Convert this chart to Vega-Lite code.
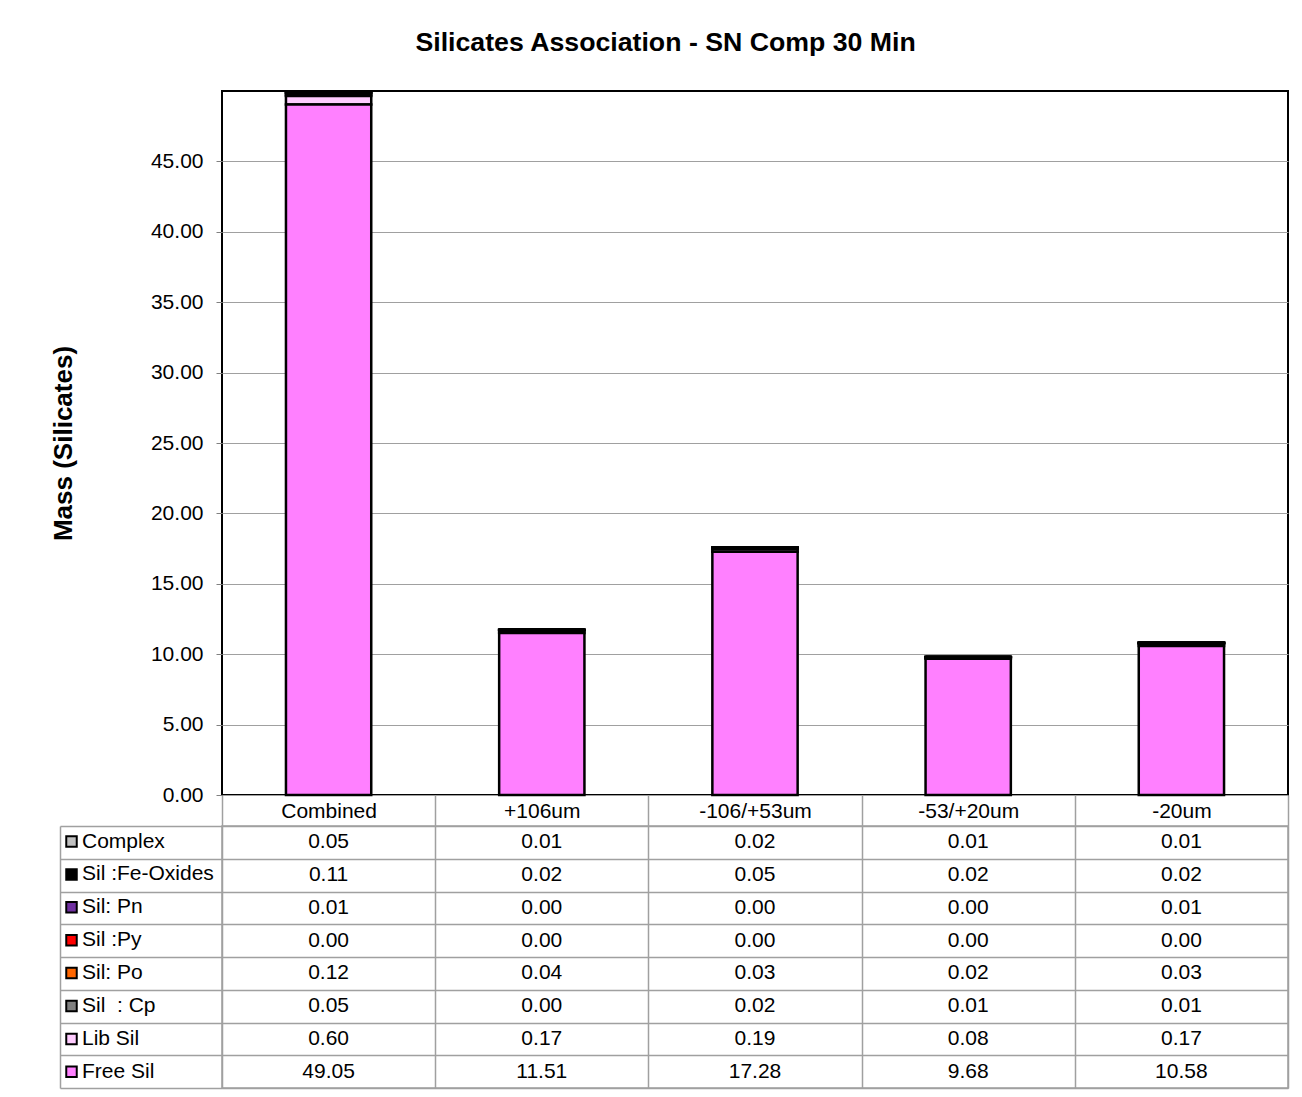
{
  "$schema": "https://vega.github.io/schema/vega-lite/v6.json",
  "padding": {"left": 49, "top": 30, "right": 5, "bottom": 5},
  "background": "white",
  "config": {"font": "Liberation Sans", "view": {"stroke": null}},
  "title": {"text": "Silicates Association - SN Comp 30 Min", "fontSize": 26.7, "fontWeight": "bold", "color": "black", "anchor": "middle", "frame": "bounds", "offset": 32, "dx": -4},
  "data": {"values": [
    {"fraction": "Combined", "series": "Complex", "mass": 0.05},
    {"fraction": "+106um", "series": "Complex", "mass": 0.01},
    {"fraction": "-106/+53um", "series": "Complex", "mass": 0.02},
    {"fraction": "-53/+20um", "series": "Complex", "mass": 0.01},
    {"fraction": "-20um", "series": "Complex", "mass": 0.01},
    {"fraction": "Combined", "series": "Sil :Fe-Oxides", "mass": 0.11},
    {"fraction": "+106um", "series": "Sil :Fe-Oxides", "mass": 0.02},
    {"fraction": "-106/+53um", "series": "Sil :Fe-Oxides", "mass": 0.05},
    {"fraction": "-53/+20um", "series": "Sil :Fe-Oxides", "mass": 0.02},
    {"fraction": "-20um", "series": "Sil :Fe-Oxides", "mass": 0.02},
    {"fraction": "Combined", "series": "Sil: Pn", "mass": 0.01},
    {"fraction": "+106um", "series": "Sil: Pn", "mass": 0.00},
    {"fraction": "-106/+53um", "series": "Sil: Pn", "mass": 0.00},
    {"fraction": "-53/+20um", "series": "Sil: Pn", "mass": 0.00},
    {"fraction": "-20um", "series": "Sil: Pn", "mass": 0.01},
    {"fraction": "Combined", "series": "Sil :Py", "mass": 0.00},
    {"fraction": "+106um", "series": "Sil :Py", "mass": 0.00},
    {"fraction": "-106/+53um", "series": "Sil :Py", "mass": 0.00},
    {"fraction": "-53/+20um", "series": "Sil :Py", "mass": 0.00},
    {"fraction": "-20um", "series": "Sil :Py", "mass": 0.00},
    {"fraction": "Combined", "series": "Sil: Po", "mass": 0.12},
    {"fraction": "+106um", "series": "Sil: Po", "mass": 0.04},
    {"fraction": "-106/+53um", "series": "Sil: Po", "mass": 0.03},
    {"fraction": "-53/+20um", "series": "Sil: Po", "mass": 0.02},
    {"fraction": "-20um", "series": "Sil: Po", "mass": 0.03},
    {"fraction": "Combined", "series": "Sil \u00a0: Cp", "mass": 0.05},
    {"fraction": "+106um", "series": "Sil \u00a0: Cp", "mass": 0.00},
    {"fraction": "-106/+53um", "series": "Sil \u00a0: Cp", "mass": 0.02},
    {"fraction": "-53/+20um", "series": "Sil \u00a0: Cp", "mass": 0.01},
    {"fraction": "-20um", "series": "Sil \u00a0: Cp", "mass": 0.01},
    {"fraction": "Combined", "series": "Lib Sil", "mass": 0.60},
    {"fraction": "+106um", "series": "Lib Sil", "mass": 0.17},
    {"fraction": "-106/+53um", "series": "Lib Sil", "mass": 0.19},
    {"fraction": "-53/+20um", "series": "Lib Sil", "mass": 0.08},
    {"fraction": "-20um", "series": "Lib Sil", "mass": 0.17},
    {"fraction": "Combined", "series": "Free Sil", "mass": 49.05},
    {"fraction": "+106um", "series": "Free Sil", "mass": 11.51},
    {"fraction": "-106/+53um", "series": "Free Sil", "mass": 17.28},
    {"fraction": "-53/+20um", "series": "Free Sil", "mass": 9.68},
    {"fraction": "-20um", "series": "Free Sil", "mass": 10.58}
  ]},
  "spacing": 31,
  "bounds": "flush",
  "resolve": {"scale": {"x": "independent", "y": "independent"}},
  "vconcat": [
    {
      "width": 1066,
      "height": 704,
      "view": {"stroke": "black", "strokeWidth": 2},
      "mark": {"type": "bar", "stroke": "black", "strokeWidth": 2.5, "width": {"band": 0.4}},
      "encoding": {
        "x": {"field": "fraction", "type": "nominal",
          "sort": ["Combined", "+106um", "-106/+53um", "-53/+20um", "-20um"],
          "scale": {"paddingInner": 0, "paddingOuter": 0},
          "axis": {"title": null, "tickBand": "extent", "tickSize": 31, "tickColor": "#a0a0a0", "tickWidth": 1.5,
            "labelAngle": 0, "labelFontSize": 21, "labelColor": "black", "labelPadding": -26, "domain": false, "grid": false}},
        "y": {"field": "mass", "type": "quantitative", "stack": "zero",
          "scale": {"domain": [0, 50], "nice": false},
          "axis": {"title": "Mass (Silicates)", "titleFontSize": 26, "titleFontWeight": "bold", "titleColor": "black", "titlePadding": 74,
            "values": [0, 5, 10, 15, 20, 25, 30, 35, 40, 45], "format": ".2f", "labelFontSize": 21, "labelColor": "black",
            "tickSize": 6, "tickColor": "#808080", "labelPadding": 13, "domain": false,
            "grid": true, "gridColor": "#a0a0a0", "gridWidth": 1.2}},
        "order": {"field": "mass", "type": "quantitative", "sort": "descending"},
        "color": {"field": "series", "type": "nominal",
          "sort": ["Complex", "Sil :Fe-Oxides", "Sil: Pn", "Sil :Py", "Sil: Po", "Sil \u00a0: Cp", "Lib Sil", "Free Sil"],
          "scale": {"domain": ["Complex", "Sil :Fe-Oxides", "Sil: Pn", "Sil :Py", "Sil: Po", "Sil \u00a0: Cp", "Lib Sil", "Free Sil"],
            "range": ["#C0C0C0", "#000000", "#7030A0", "#FF0000", "#FF6600", "#808080", "#FFCCFF", "#FF80FF"]},
          "legend": {"orient": "none", "legendX": -161, "legendY": 740, "title": null,
            "values": ["Complex", "Sil :Fe-Oxides", "Sil: Pn", "Sil :Py", "Sil: Po", "Sil \u00a0: Cp", "Lib Sil", "Free Sil"],
            "symbolType": "square", "symbolSize": 110, "symbolStrokeColor": "black", "symbolStrokeWidth": 2,
            "labelFontSize": 21, "labelColor": "black", "labelOffset": 0, "rowPadding": 10.9}}
      }
    },
    {
      "width": 1066,
      "height": 262,
      "view": {"stroke": "#a0a0a0", "strokeWidth": 1.5},
      "encoding": {
        "x": {"field": "fraction", "type": "nominal",
          "sort": ["Combined", "+106um", "-106/+53um", "-53/+20um", "-20um"],
          "scale": {"paddingInner": 0, "paddingOuter": 0},
          "axis": {"title": null, "labels": false, "ticks": false, "domain": false, "grid": true, "tickBand": "extent", "gridColor": "#a0a0a0", "gridWidth": 1.5}},
        "text": {"field": "mass", "type": "quantitative", "format": ".2f"}
      },
      "layer": [
        {
          "mark": {"type": "text", "fontSize": 21, "color": "black"},
          "encoding": {
            "y": {"field": "series", "type": "nominal",
              "sort": ["Complex", "Sil :Fe-Oxides", "Sil: Pn", "Sil :Py", "Sil: Po", "Sil \u00a0: Cp", "Lib Sil", "Free Sil"],
              "scale": {"paddingInner": 0, "paddingOuter": 0},
              "axis": {"title": null, "orient": "left", "labels": false, "ticks": true, "tickSize": 162, "tickBand": "extent", "tickColor": "#a0a0a0", "tickWidth": 1.5,
                "domain": false, "grid": true, "gridColor": "#a0a0a0", "gridWidth": 1.5}}
          }
        },
        {
          "mark": {"type": "text", "fontSize": 21, "opacity": 0},
          "encoding": {
            "y": {"field": "series", "type": "nominal",
              "sort": ["Complex", "Sil :Fe-Oxides", "Sil: Pn", "Sil :Py", "Sil: Po", "Sil \u00a0: Cp", "Lib Sil", "Free Sil"],
              "scale": {"paddingInner": 0, "paddingOuter": 0},
              "axis": {"title": null, "orient": "left", "offset": 162, "labels": false, "ticks": false, "grid": false,
                "domain": true, "domainColor": "#a0a0a0", "domainWidth": 1.5}}
          }
        }
      ],
      "resolve": {"axis": {"y": "independent"}}
    }
  ]
}
